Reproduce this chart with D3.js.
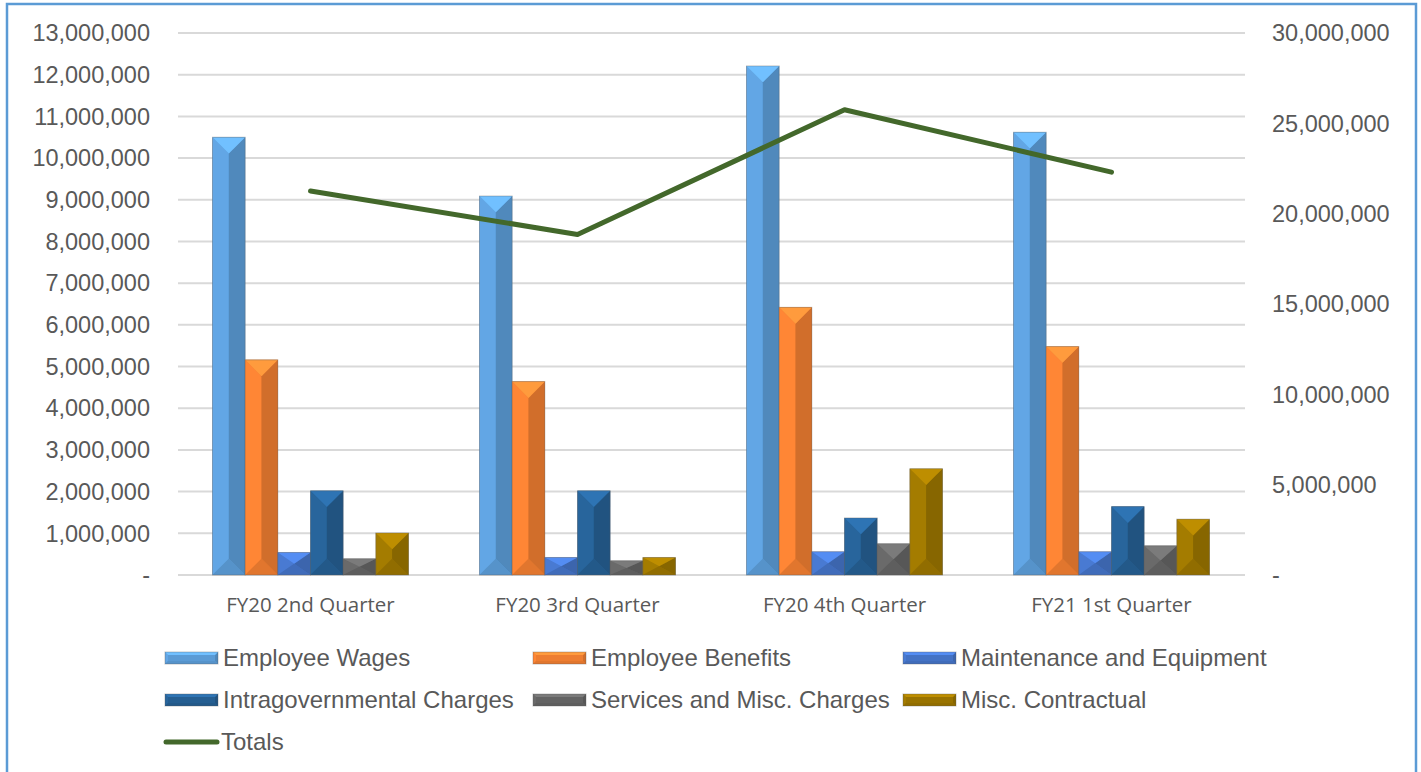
<!DOCTYPE HTML>
<html>
<head>
<meta charset="utf-8">
<title>Expenditures by Quarter</title>
<script src="https://d3js.org/d3.v7.min.js"></script>
<style>
	body { margin: 0; background: #fff; }
	.axisLabel { font-family: "Liberation Sans", Arial, sans-serif; font-size: 23.5px; fill: #595959; }
	.catLabel { font-family: "Open Sans", sans-serif; font-size: 20.5px; fill: #595959; }
	.legendText { font-family: "Liberation Sans", Arial, sans-serif; font-size: 24px; fill: #595959; }
</style>
</head>
<body>
<svg width="1421" height="772"></svg>
<script>
// Data
var categories = ["FY20 2nd Quarter", "FY20 3rd Quarter", "FY20 4th Quarter", "FY21 1st Quarter"];
var seriesNames = ["Employee Wages", "Employee Benefits", "Maintenance and Equipment",
	"Intragovernmental Charges", "Services and Misc. Charges", "Misc. Contractual"];
var employeeWages = [10500000, 9090000, 12210000, 10620000];
var employeeBenefits = [5160000, 4640000, 6420000, 5480000];
var maintenance = [540000, 420000, 560000, 560000];
var intragov = [2020000, 2020000, 1370000, 1640000];
var services = [390000, 340000, 750000, 700000];
var miscContractual = [1010000, 420000, 2550000, 1340000];
var totals = [21250000, 18850000, 25750000, 22300000];
var leftTicks = d3.range(0, 13000001, 1000000);
var rightTicks = d3.range(0, 30000001, 5000000);

var seriesValues = [employeeWages, employeeBenefits, maintenance, intragov, services, miscContractual];
var colors = ["#5B9BD5", "#ED7D31", "#4472C4", "#255E91", "#636363", "#997300"];

var svg = d3.select("svg"),
	width = +svg.attr("width"),
	height = +svg.attr("height");

// outer frame
svg.append("rect")
	.attr("x", 7).attr("y", 4)
	.attr("width", 1409).attr("height", 820)
	.attr("fill", "none")
	.attr("stroke", "#5B9BD5")
	.attr("stroke-width", 2.5);

// scales
var x0 = d3.scaleBand().domain(categories).range([177, 1245]);
var groupW = 196;
var x1 = d3.scaleBand().domain(seriesNames).range([0, groupW]);
var yLeft = d3.scaleLinear().domain([0, 13000000]).range([575, 33]);
var yRight = d3.scaleLinear().domain([0, 30000000]).range([575, 33]);

var fmt = function (v) { return v === 0 ? "-" : d3.format(",")(v); };

// gridlines
svg.append("g")
	.selectAll("line")
	.data(leftTicks)
	.enter()
	.append("line")
	.attr("x1", 178).attr("x2", 1245)
	.attr("y1", function (d) { return yLeft(d); })
	.attr("y2", function (d) { return yLeft(d); })
	.attr("stroke", "#D9D9D9")
	.attr("stroke-width", 2);

// left axis labels
svg.append("g")
	.selectAll("text")
	.data(leftTicks)
	.enter()
	.append("text")
	.attr("class", "axisLabel")
	.attr("x", function (d) { return d === 0 ? 150 : 150; })
	.attr("y", function (d) { return yLeft(d); })
	.attr("dy", "0.35em")
	.attr("text-anchor", "end")
	.text(fmt);

// right axis labels
svg.append("g")
	.selectAll("text")
	.data(rightTicks)
	.enter()
	.append("text")
	.attr("class", "axisLabel")
	.attr("x", 1272)
	.attr("y", function (d) { return yRight(d); })
	.attr("dy", "0.35em")
	.text(fmt);

// category labels
svg.append("g")
	.selectAll("text")
	.data(categories)
	.enter()
	.append("text")
	.attr("class", "catLabel")
	.attr("x", function (d) { return x0(d) + x0.bandwidth() / 2; })
	.attr("y", 612)
	.attr("text-anchor", "middle")
	.text(function (d) { return d; });

// beveled box: top/left lighter, right/bottom darker
function bevelBox(g, x, y, w, h, color, b) {
	var c = d3.color(color);
	var bx = Math.min(b, w / 2), by = Math.min(b, h / 2);
	var faces = [
		{ pts: [[x, y], [x + w, y], [x + w, y + h], [x, y + h]], fill: c.formatHex() },
		{ pts: [[x, y], [x + bx, y + by], [x + bx, y + h - by], [x, y + h]], fill: c.brighter(0.2).formatHex() },
		{ pts: [[x + w, y], [x + w - bx, y + by], [x + w - bx, y + h - by], [x + w, y + h]], fill: c.darker(0.35).formatHex() },
		{ pts: [[x, y], [x + w, y], [x + w - bx, y + by], [x + bx, y + by]], fill: c.brighter(0.6).formatHex() },
		{ pts: [[x, y + h], [x + w, y + h], [x + w - bx, y + h - by], [x + bx, y + h - by]], fill: c.darker(0.15).formatHex() }
	];
	g.selectAll(null)
		.data(faces)
		.enter()
		.append("polygon")
		.attr("points", function (d) { return d.pts.join(" "); })
		.attr("fill", function (d) { return d.fill; });
	g.append("rect")
		.attr("x", x).attr("y", y)
		.attr("width", w).attr("height", h)
		.attr("fill", "none")
		.attr("stroke", "rgba(90,90,90,0.35)")
		.attr("stroke-width", 1);
}

// bars
var barsG = svg.append("g");
seriesValues.forEach(function (vals, s) {
	vals.forEach(function (v, i) {
		var bx = x0(categories[i]) + (x0.bandwidth() - groupW) / 2 + x1(seriesNames[s]);
		var top = yLeft(v);
		var w = x1.bandwidth();
		bevelBox(barsG.append("g"), bx, top, w, yLeft(0) - top, colors[s], w / 2);
	});
});

// totals line on right axis
var line = d3.line()
	.x(function (d, i) { return x0(categories[i]) + x0.bandwidth() / 2; })
	.y(function (d) { return yRight(d); });
svg.append("path")
	.datum(totals)
	.attr("d", line)
	.attr("fill", "none")
	.attr("stroke", "#43682B")
	.attr("stroke-width", 5)
	.attr("stroke-linejoin", "round")
	.attr("stroke-linecap", "round");

// legend
var legendPos = [[165, 658], [533, 658], [903, 658], [165, 700], [533, 700], [903, 700]];
var legend = svg.append("g");
seriesNames.forEach(function (name, s) {
	var p = legendPos[s];
	bevelBox(legend.append("g"), p[0], p[1] - 6, 53, 12, colors[s], 3);
	legend.append("text")
		.attr("class", "legendText")
		.attr("x", p[0] + 58)
		.attr("y", p[1])
		.attr("dy", "0.35em")
		.text(name);
});
legend.append("line")
	.attr("x1", 166).attr("x2", 217)
	.attr("y1", 742).attr("y2", 742)
	.attr("stroke", "#43682B")
	.attr("stroke-width", 5)
	.attr("stroke-linecap", "round");
legend.append("text")
	.attr("class", "legendText")
	.attr("x", 221)
	.attr("y", 742)
	.attr("dy", "0.35em")
	.text("Totals");
</script>
</body>
</html>
